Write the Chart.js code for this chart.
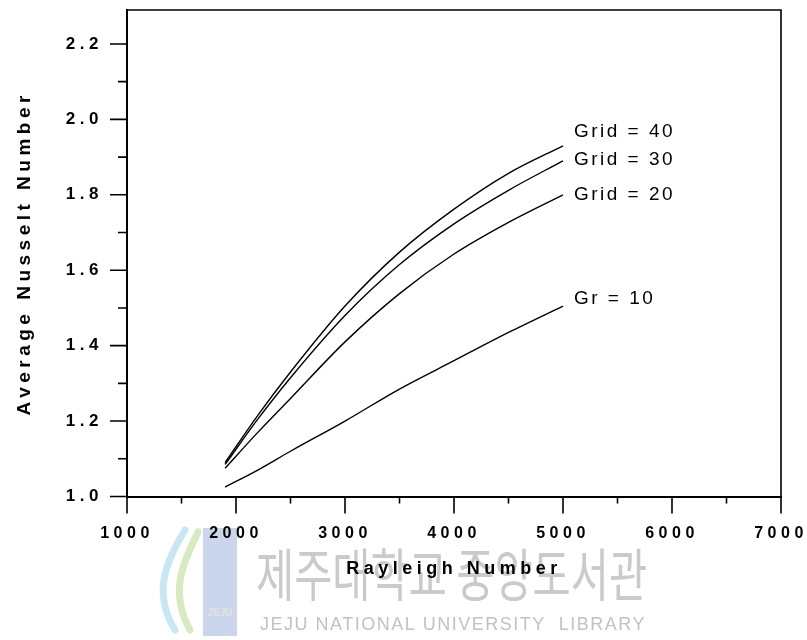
<!DOCTYPE html>
<html>
<head>
<meta charset="utf-8">
<script src="https://cdn.jsdelivr.net/npm/chart.js@4/dist/chart.umd.min.js"></script>
<style>
  html, body { margin: 0; padding: 0; background: #fff; }
  #wrap { width: 807px; height: 640px; }
</style>
</head>
<body>
<div id="wrap"><canvas id="myChart" width="807" height="640"></canvas></div>
<script>
// Data
const rayleigh = [1900, 2200, 2500, 3000, 3500, 4000, 4500, 5000];
const nuGrid40 = [1.090, 1.215, 1.330, 1.505, 1.648, 1.762, 1.857, 1.930];
const nuGrid30 = [1.085, 1.205, 1.315, 1.480, 1.615, 1.723, 1.812, 1.890];
const nuGrid20 = [1.075, 1.170, 1.260, 1.410, 1.538, 1.643, 1.727, 1.800];
const nuGr10   = [1.025, 1.070, 1.120, 1.200, 1.285, 1.360, 1.435, 1.505];

const curveLabels = ['Grid = 40', 'Grid = 30', 'Grid = 20', 'Gr = 10'];
const labelRa = [5100, 5100, 5100, 5100];
const labelNu = [1.967, 1.892, 1.800, 1.523];

const xMajorTicks = [1000, 2000, 3000, 4000, 5000, 6000, 7000];
const xMinorTicks = [1500, 2500, 3500, 4500, 5500, 6500];
const yMajorTicks = [1.0, 1.2, 1.4, 1.6, 1.8, 2.0, 2.2];
const yMinorTicks = [1.1, 1.3, 1.5, 1.7, 1.9, 2.1];

const FONT = "'Liberation Sans', Arial, sans-serif";
const INK = '#000';

function toPoints(ys) {
    return rayleigh.map((x, i) => ({ x: x, y: ys[i] }));
}

function lineSet(label, ys) {
    return {
        label: label,
        data: toPoints(ys),
        borderColor: INK,
        borderWidth: 1.4,
        pointRadius: 0,
        fill: false,
        cubicInterpolationMode: 'monotone'
    };
}

// no extra room around the axes, the frame sits where the picture has it
function noPadding(scale) {
    scale.paddingLeft = 0;
    scale.paddingRight = 0;
    scale.paddingTop = 0;
    scale.paddingBottom = 0;
}

// faint library watermark behind the chart
function drawWatermark(ctx) {
    ctx.save();
    ctx.letterSpacing = '0px';
    // logo
    ctx.fillStyle = '#cbd6ec';
    ctx.fillRect(203, 528, 34, 108);
    ctx.lineCap = 'round';
    ctx.lineWidth = 7;
    ctx.strokeStyle = '#c9e6f4';
    ctx.beginPath();
    ctx.moveTo(175, 630);
    ctx.bezierCurveTo(150, 590, 170, 555, 185, 530);
    ctx.stroke();
    ctx.strokeStyle = '#d8eac2';
    ctx.beginPath();
    ctx.moveTo(190, 630);
    ctx.bezierCurveTo(168, 590, 185, 560, 198, 532);
    ctx.stroke();
    ctx.fillStyle = '#e2e2e2';
    ctx.font = 'bold 10px ' + FONT;
    ctx.textAlign = 'center';
    ctx.fillText('JEJU', 220, 616);
    // korean text, tall and narrow
    ctx.fillStyle = '#cacaca';
    ctx.textAlign = 'left';
    ctx.textBaseline = 'middle';
    ctx.font = "41.5px 'Noto Sans CJK KR'";
    ctx.translate(256, 574);
    ctx.scale(1, 1.38);
    ctx.fillText('제주대학교 중앙도서관', 0, 0);
    ctx.restore();

    ctx.save();
    ctx.fillStyle = '#c2c2c2';
    ctx.font = '18px ' + FONT;
    ctx.letterSpacing = '1.5px';
    ctx.textBaseline = 'alphabetic';
    ctx.fillText('JEJU NATIONAL UNIVERSITY  LIBRARY', 260, 630);
    ctx.restore();
}

const frameAndTicks = {
    id: 'frameAndTicks',
    beforeDraw(chart) {
        drawWatermark(chart.ctx);
        chart.ctx.letterSpacing = '4.5px';
    },
    afterDraw(chart) {
        const { ctx, chartArea: { left, right, top, bottom } } = chart;
        const xs = chart.scales.x;
        const ys = chart.scales.y;
        ctx.save();
        ctx.strokeStyle = INK;
        ctx.lineWidth = 1.6;
        // top and right frame
        ctx.beginPath();
        ctx.moveTo(left, top);
        ctx.lineTo(right, top);
        ctx.lineTo(right, bottom);
        ctx.stroke();
        // tick marks outside the frame
        ctx.beginPath();
        xMajorTicks.forEach(v => {
            const px = xs.getPixelForValue(v);
            ctx.moveTo(px, bottom); ctx.lineTo(px, bottom + 17);
        });
        xMinorTicks.forEach(v => {
            const px = xs.getPixelForValue(v);
            ctx.moveTo(px, bottom); ctx.lineTo(px, bottom + 7);
        });
        yMajorTicks.forEach(v => {
            const py = ys.getPixelForValue(v);
            ctx.moveTo(left, py); ctx.lineTo(left - 17, py);
        });
        yMinorTicks.forEach(v => {
            const py = ys.getPixelForValue(v);
            ctx.moveTo(left, py); ctx.lineTo(left - 9, py);
        });
        ctx.stroke();
        // curve labels
        ctx.fillStyle = INK;
        ctx.font = '19px ' + FONT;
        ctx.letterSpacing = '2.5px';
        ctx.textAlign = 'left';
        ctx.textBaseline = 'middle';
        curveLabels.forEach((t, i) => {
            ctx.fillText(t, xs.getPixelForValue(labelRa[i]), ys.getPixelForValue(labelNu[i]));
        });
        ctx.restore();
        ctx.letterSpacing = '0px';
    }
};

new Chart(document.getElementById('myChart'), {
    type: 'line',
    data: {
        datasets: [
            lineSet('Grid = 40', nuGrid40),
            lineSet('Grid = 30', nuGrid30),
            lineSet('Grid = 20', nuGrid20),
            lineSet('Gr = 10', nuGr10)
        ]
    },
    options: {
        responsive: false,
        animation: false,
        layout: { padding: { top: 10, right: 26, left: 0, bottom: 0 } },
        plugins: {
            legend: { display: false },
            tooltip: { enabled: false }
        },
        scales: {
            x: {
                type: 'linear',
                min: 1000,
                max: 7000,
                afterBuildTicks: (scale) => { scale.ticks = xMajorTicks.map(v => ({ value: v })); },
                afterFit: (scale) => { scale.height = 143.5; noPadding(scale); },
                grid: { display: false, drawTicks: false },
                border: { display: true, color: INK, width: 2 },
                ticks: {
                    color: INK,
                    padding: 27,
                    maxRotation: 0,
                    font: { family: FONT, size: 16, weight: 'bold' },
                    callback: (v) => String(v)
                },
                title: {
                    display: true,
                    text: 'Rayleigh Number',
                    color: INK,
                    font: { family: FONT, size: 18, weight: 'bold' },
                    padding: { bottom: 60 }
                }
            },
            y: {
                min: 1.0,
                max: 2.29,
                afterBuildTicks: (scale) => { scale.ticks = yMajorTicks.map(v => ({ value: v })); },
                afterFit: (scale) => { scale.width = 127; noPadding(scale); },
                grid: { display: false, drawTicks: false },
                border: { display: true, color: INK, width: 2 },
                ticks: {
                    color: INK,
                    padding: 24,
                    font: { family: FONT, size: 17, weight: 'bold' },
                    callback: (v) => Number(v).toFixed(1)
                },
                title: {
                    display: true,
                    text: 'Average Nusselt Number',
                    color: INK,
                    font: { family: FONT, size: 19, weight: 'bold' },
                    padding: { top: 13 }
                }
            }
        }
    },
    plugins: [frameAndTicks]
});
</script>
</body>
</html>
